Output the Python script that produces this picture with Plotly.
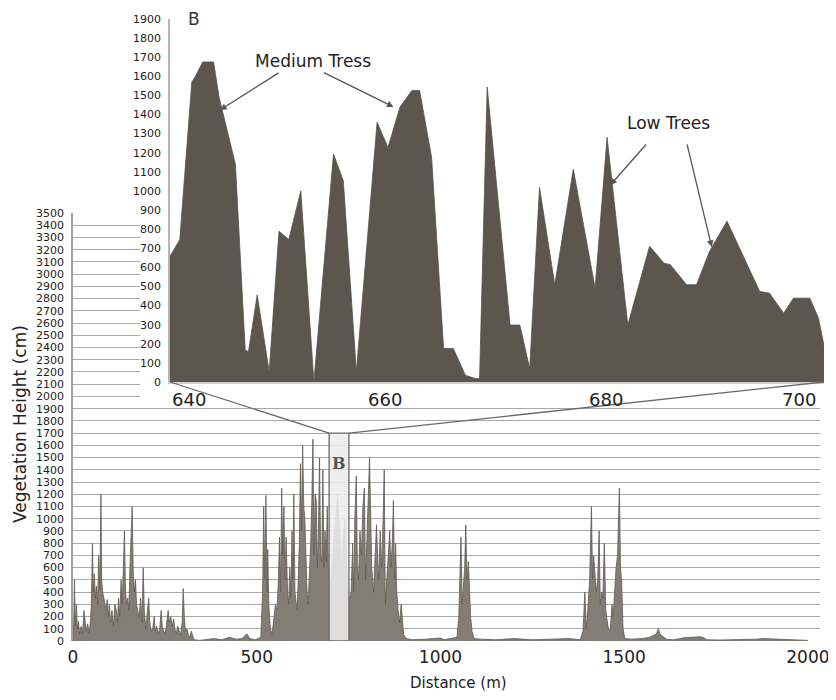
import plotly.graph_objects as go

# ---------------- data ----------------
# Main profile: distance (m) and vegetation height (cm)
MAIN_DIST = [0, 2, 4, 6, 9, 12, 15, 18, 22, 26, 30, 33, 36, 40, 44, 47, 50, 53, 55, 58, 61, 64, 67, 70, 73, 76, 78,
             81, 84, 87, 90, 93, 96, 99, 102, 106, 110, 114, 118, 121, 124, 127, 131, 134, 137, 140, 143, 146, 149,
             152, 155, 158, 161, 164, 167, 170, 173, 176, 180, 184, 188, 191, 194, 198, 202, 206, 209, 213, 217, 221,
             224, 228, 232, 236, 240, 243, 247, 251, 255, 259, 262, 266, 270, 274, 277, 281, 285, 289, 293, 297, 300,
             303, 306, 310, 314, 318, 322, 326, 330, 345, 364, 384, 405, 425, 445, 460, 473, 481, 496, 511,
             516, 519, 522, 525, 528, 530, 533, 537, 542, 547, 551, 555, 559, 562, 565, 568, 571, 574, 577, 580,
             584, 587, 590, 593, 596, 598, 601, 604, 607, 610, 613, 616, 619, 622, 625, 628, 631, 634, 637, 640,
             643, 647, 650, 653, 656, 659, 662, 665, 668, 671, 674, 677, 680, 683, 686, 689, 692, 695, 700, 710,
             720, 730, 740, 748, 757, 761, 764, 767, 771, 774, 777, 781, 785, 789, 793, 796, 800, 804, 807, 810,
             813, 818, 822, 826, 829, 832, 836, 840, 844, 847, 850, 854, 858, 862, 865, 869, 872, 875, 878, 881,
             885, 889, 893, 896, 900, 908, 923, 960, 1000, 1010, 1035, 1045, 1050, 1056, 1059, 1063, 1066, 1069,
             1072, 1076, 1079, 1082, 1086, 1092, 1110, 1150, 1200, 1250, 1300, 1350, 1380, 1388, 1393, 1397, 1402,
             1406, 1411, 1414, 1417, 1420, 1424, 1428, 1432, 1435, 1439, 1442, 1446, 1450, 1454, 1457, 1462, 1467,
             1470, 1474, 1478, 1482, 1487, 1490, 1493, 1497, 1502, 1520, 1550, 1570, 1582, 1588, 1593, 1597, 1604,
             1615, 1635, 1655, 1670, 1685, 1705, 1715, 1725, 1760, 1810, 1860, 1880, 1910, 1960, 2000]
MAIN_HEIGHT = [0, 150, 500, 120, 300, 100, 160, 60, 120, 60, 250, 180, 80, 140, 60, 150, 300, 800, 400, 550, 350,
               450, 300, 700, 420, 1200, 500, 400, 350, 300, 250, 340, 200, 300, 150, 250, 120, 300, 250, 150, 350,
               200, 500, 300, 600, 900, 400, 300, 350, 250, 600, 800, 1100, 550, 400, 500, 300, 250, 200, 350, 150,
               600, 250, 100, 200, 350, 150, 80, 100, 200, 80, 120, 60, 100, 250, 120, 80, 60, 150, 250, 150, 200,
               120, 180, 100, 60, 120, 80, 50, 150, 430, 200, 80, 100, 50, 30, 80, 40, 10, 5, 10, 20, 10, 30, 15, 20,
               60, 20, 10, 30, 400, 1100, 500, 1190, 400, 750, 300, 100, 60, 200, 300, 250, 500, 850, 400, 1250, 700,
               1100, 500, 850, 400, 300, 600, 350, 900, 500, 1200, 400, 300, 250, 500, 800, 1450, 900, 1600, 1100,
               1000, 600, 400, 300, 500, 800, 1150, 1650, 700, 1200, 1150, 600, 900, 1500, 700, 650, 1400, 600, 900,
               650, 1100, 600, 400, 800, 1200, 600, 1000, 300, 400, 800, 400, 1000, 1350, 600, 500, 900, 700, 1100,
               1250, 500, 800, 1200, 1500, 900, 600, 400, 700, 950, 700, 500, 900, 600, 1000, 1400, 300, 500, 800,
               900, 600, 800, 1150, 500, 800, 400, 250, 150, 300, 150, 50, 20, 10, 15, 25, 10, 20, 30, 200, 850, 300,
               500, 600, 950, 500, 650, 400, 200, 80, 20, 15, 10, 20, 10, 15, 20, 10, 80, 400, 100, 300, 500, 1100,
               500, 700, 600, 400, 500, 900, 300, 400, 350, 800, 250, 150, 100, 80, 300, 200, 450, 600, 700, 1250,
               600, 500, 100, 20, 15, 20, 30, 50, 60, 100, 60, 40, 15, 10, 20, 30, 30, 35, 30, 10, 8, 10, 15, 20, 15,
               10, 5]

# Inset B: distance 640-700 m
INSET_DIST = [640.0, 640.9, 642.0, 642.3, 643.0, 644.0, 644.5, 645.3, 646.0, 646.9, 647.2, 648.0, 649.1, 650.0,
              650.9, 652.0, 653.2, 655.0, 655.9, 657.1, 659.0, 660.0, 661.1, 662.2, 662.9, 664.0, 665.1, 666.0,
              667.1, 668.0, 668.4, 669.1, 671.2, 672.1, 673.0, 673.9, 675.3, 677.0, 679.0, 680.1, 682.0, 684.0,
              685.3, 685.9, 687.4, 688.3, 689.5, 691.1, 694.1, 695.0, 696.3, 697.2, 698.7, 699.5, 700.0]
INSET_HEIGHT = [658, 746, 1570, 1596, 1675, 1675, 1491, 1298, 1140, 167, 158, 456, 53, 789, 746, 1000, 0, 1193,
                1053, 53, 1360, 1228, 1439, 1526, 1526, 1175, 175, 175, 35, 18, 18, 1544, 298, 298, 70, 1018, 509,
                1114, 491, 1281, 298, 711, 623, 614, 509, 509, 684, 842, 474, 465, 360, 439, 439, 333, 190]

MAIN_XTICKS = [0, 500, 1000, 1500, 2000]
MAIN_YTICKS = list(range(0, 3501, 100))
INSET_XTICKS = [640, 660, 680, 700]
INSET_YTICKS = list(range(0, 1901, 100))

ZOOM_BOX = [697, 751, 1700]  # zoomed window drawn in main chart (x0, x1, top)

# ---------------- layout geometry ----------------
# The page body has an 8px margin, so the figure starts 8px right/down of the window corner.
OFF = 8
W, H = 836 - OFF, 700 - OFF


def sx(p):  # window x pixel -> paper fraction
    return (p - OFF) / W


def sy(p):  # window y pixel -> paper fraction
    return (700 - p) / H


MAIN_XDOM = [sx(73), sx(820)]
MAIN_YDOM = [sy(641), sy(213)]
MAIN_XRANGE = [0, 2033]
MAIN_YRANGE = [0, 3500]
COVER_XDOM = [sx(140), 1.0]
COVER_YDOM = [sy(403), 1.0]
INSET_XDOM = [sx(170), sx(824)]
INSET_YDOM = [sy(382), sy(19)]
INSET_XRANGE = [640, 700]
INSET_YRANGE = [0, 1900]

FONT = "DejaVu Sans"


def px(v, dom, rng):
    return dom[0] + (v - rng[0]) / (rng[1] - rng[0]) * (dom[1] - dom[0])


fig = go.Figure()

fig.add_trace(go.Scatter(
    x=MAIN_DIST, y=MAIN_HEIGHT, mode="lines", fill="tozeroy",
    line=dict(color="#5e5a53", width=0.8), fillcolor="#827e76",
    xaxis="x", yaxis="y", hoverinfo="skip", showlegend=False))

# empty cover subplot (white background over main grid)
fig.add_trace(go.Scatter(x=[], y=[], xaxis="x2", yaxis="y2", showlegend=False))

fig.add_trace(go.Scatter(
    x=INSET_DIST, y=INSET_HEIGHT, mode="lines", fill="tozeroy",
    line=dict(color="#57524b", width=0.8), fillcolor="#5b564e",
    xaxis="x3", yaxis="y3", hoverinfo="skip", showlegend=False))

hidden = dict(showgrid=False, zeroline=False, showline=False, showticklabels=False, ticks="",
              fixedrange=True, automargin=False)

fig.update_layout(
    template="none",
    width=W, height=H,
    margin=dict(l=0, r=0, t=0, b=0, pad=0, autoexpand=False),
    paper_bgcolor="white", plot_bgcolor="white",
    font=dict(family=FONT, color="#222"),
    xaxis=dict(domain=MAIN_XDOM, range=MAIN_XRANGE, anchor="y", tickvals=MAIN_XTICKS,
               tickfont=dict(size=17, color="#222"), showgrid=False, zeroline=False,
               showline=False, ticks="", ticklabelstandoff=4, automargin=False),
    yaxis=dict(domain=MAIN_YDOM, range=MAIN_YRANGE, anchor="x", tickvals=MAIN_YTICKS,
               tickfont=dict(size=11, color="#222"), showgrid=True, gridcolor="#a9a9a9",
               gridwidth=1.3, zeroline=False, showline=True, linecolor="#a0a0a0", linewidth=1.5,
               ticks="", ticklabelstandoff=5, automargin=False),
    xaxis2=dict(domain=COVER_XDOM, anchor="y2", **hidden),
    yaxis2=dict(domain=COVER_YDOM, anchor="x2", **hidden),
    xaxis3=dict(domain=INSET_XDOM, range=INSET_XRANGE, anchor="y3", showticklabels=False,
                showgrid=False, zeroline=False, showline=True, linecolor="#d0d0d0", linewidth=1.5,
                ticks="", automargin=False),
    yaxis3=dict(domain=INSET_YDOM, range=INSET_YRANGE, anchor="x3", tickvals=INSET_YTICKS,
                tickfont=dict(size=11, color="#222"), showgrid=False, zeroline=False,
                showline=True, linecolor="#b5b5b5", linewidth=1.5, ticks="", ticklabelstandoff=5,
                automargin=False),
)

annotations = []
# inset x tick labels
anchors = ["left", "center", "center", "right"]
shifts = [0, -3, 0, -6]
for v, a, s in zip(INSET_XTICKS, anchors, shifts):
    annotations.append(dict(x=v, y=0, xref="x3", yref="y3", text=str(v), showarrow=False,
                            xanchor=a, yanchor="top", yshift=-5, xshift=s,
                            font=dict(size=18, color="#222", family=FONT)))

annotations += [
    dict(x=sx(458), y=sy(683), xref="paper", yref="paper", text="Distance (m)", showarrow=False,
         font=dict(size=15, color="#222", family=FONT), xanchor="center", yanchor="middle"),
    dict(x=sx(20), y=sy(424), xref="paper", yref="paper", text="Vegetation Height (cm)",
         showarrow=False, textangle=-90, font=dict(size=17, color="#222", family=FONT),
         xanchor="center", yanchor="middle"),
    dict(x=642.2, y=1900, xref="x3", yref="y3", text="B", showarrow=False,
         font=dict(size=17, color="#333", family=FONT), xanchor="center", yanchor="middle"),
    dict(x=(ZOOM_BOX[0] + ZOOM_BOX[1]) / 2, y=1450, xref="x", yref="y", text="<b>B</b>", showarrow=False,
         font=dict(size=16, color="#555", family="DejaVu Serif"), xanchor="center", yanchor="middle"),
    dict(x=653.1, y=1681, xref="x3", yref="y3", text="Medium Tress", showarrow=False,
         font=dict(size=17, color="#222", family=FONT)),
    dict(x=685.7, y=1356, xref="x3", yref="y3", text="Low Trees", showarrow=False,
         font=dict(size=17, color="#222", family=FONT)),
]
arrow_style = dict(xref="x3", yref="y3", text="", showarrow=True, arrowhead=2, arrowsize=1,
                   arrowwidth=1.3, arrowcolor="#555", standoff=0)
for (x, y, ax, ay) in [(644.6, 1424, 60, -38), (660.5, 1440, -71, -35),
                       (680.4, 1031, 37, -42), (689.7, 707, -25, -104)]:
    annotations.append(dict(x=x, y=y, ax=ax, ay=ay, **arrow_style))

fig.update_layout(annotations=annotations)

# zoom box and connector lines
shapes = [
    dict(type="rect", xref="x", yref="y", x0=ZOOM_BOX[0], x1=ZOOM_BOX[1], y0=0, y1=ZOOM_BOX[2],
         fillcolor="rgba(236,236,233,0.88)", line=dict(color="#6a6a6a", width=1.3), layer="above"),
]
box_top = px(ZOOM_BOX[2], MAIN_YDOM, MAIN_YRANGE)
inset_bottom = px(0, INSET_YDOM, INSET_YRANGE)
for ix, mx in [(INSET_XRANGE[0], ZOOM_BOX[0]), (INSET_XRANGE[1], ZOOM_BOX[1])]:
    shapes.append(dict(type="line", xref="paper", yref="paper",
                       x0=px(ix, INSET_XDOM, INSET_XRANGE), y0=inset_bottom,
                       x1=px(mx, MAIN_XDOM, MAIN_XRANGE), y1=box_top,
                       line=dict(color="#6a6a6a", width=1.3), layer="above"))
fig.update_layout(shapes=shapes)

fig.write_html("out.html")
